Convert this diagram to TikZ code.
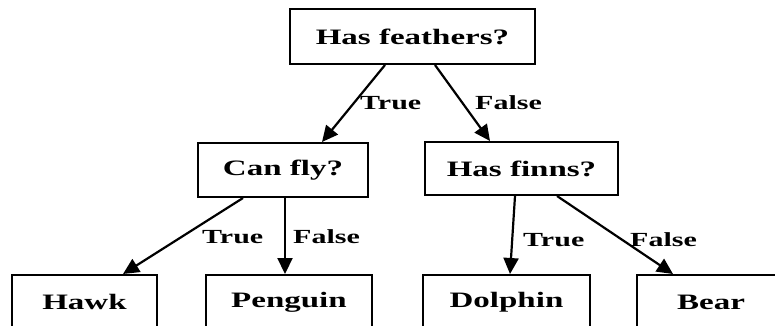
\documentclass[tikz,border=0pt]{standalone}
\usepackage{fontspec}
\setmainfont{Liberation Serif}
\newfontfamily\treefont{Liberation Serif Bold}[FakeStretch=1.5]
\usetikzlibrary{arrows.meta}

\tikzset{
  decision/.style={draw=black, line width=2pt, rectangle, inner sep=0pt,
    font=\treefont\fontsize{22pt}{24pt}\selectfont},
  leaf/.style={decision, minimum width=#1, minimum height=54pt},
  branch/.style={line width=2.2pt, -{Triangle[length=16pt,width=15pt]}},
  edgelabel/.style={anchor=base west, inner sep=0pt,
    font=\treefont\fontsize{20pt}{22pt}\selectfont}
}

\begin{document}
\begin{tikzpicture}[x=1pt, y=1pt]
  \useasboundingbox (0,0) rectangle (775,-326);
  \clip (0,0) rectangle (775,-326);

  % decision nodes
  \node[decision, minimum width=245pt, minimum height=55pt] (root) at (412.5,-36.5) {Has feathers?};
  \node[decision, minimum width=170pt, minimum height=54pt] (fly) at (283,-170) {Can fly?};
  \node[decision, minimum width=193pt, minimum height=53pt] (finns) at (521.5,-168.5) {Has finns?};

  % leaves
  \node[leaf=145pt] (hawk) at (84.5,-302) {Hawk};
  \node[leaf=166pt] (penguin) at (289,-302) {Penguin};
  \node[leaf=167pt] (dolphin) at (506.5,-302) {Dolphin};
  \node[leaf=148pt] (bear) at (711,-302) {Bear};

  % branches
  \draw[branch] ([xshift=-27.5pt]root.south) -- ([xshift=39pt]fly.north);
  \draw[branch] ([xshift=22.5pt]root.south) -- ([xshift=-31.5pt]finns.north);
  \draw[branch] ([xshift=-40pt]fly.south) -- ([xshift=38.5pt]hawk.north);
  \draw[branch] ([xshift=2pt]fly.south) -- ([xshift=-4pt]penguin.north);
  \draw[branch] ([xshift=-6.5pt]finns.south) -- ([xshift=3.5pt]dolphin.north);
  \draw[branch] ([xshift=35.5pt]finns.south) -- ([xshift=-38pt]bear.north);

  % branch labels
  \node[edgelabel] (rootT) at (360,-110) {True};
  \node[edgelabel] (rootF) at (475,-110) {False};
  \node[edgelabel] (flyT) at (202,-243) {True};
  \node[edgelabel] (flyF) at (293,-243) {False};
  \node[edgelabel] (finnsT) at (523,-246) {True};
  \node[edgelabel] (finnsF) at (630,-246) {False};
\end{tikzpicture}
\end{document}
